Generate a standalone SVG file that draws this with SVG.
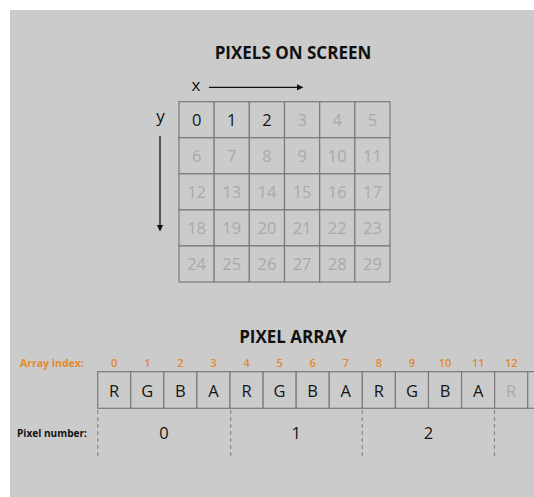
<svg xmlns="http://www.w3.org/2000/svg" width="534" height="497" viewBox="0 0 534 497">
<style>
.title{font-family:"Open Sans","Liberation Sans",sans-serif;font-weight:bold;font-size:17px;fill:#111;text-anchor:middle}
.cell rect{fill:#cbcbcb;stroke:#7a7a7a;stroke-width:1.2}
.num{font-family:"Open Sans","Liberation Sans",sans-serif;font-size:16.5px;text-anchor:middle}
.on{fill:#151515}
.off{fill:#a9a9a9}
.idx{font-family:"Open Sans","Liberation Sans",sans-serif;font-size:11px;font-weight:600;fill:#e08a2c;text-anchor:middle}
.lbl{font-family:"Open Sans","Liberation Sans",sans-serif;font-size:10.5px;font-weight:bold}
.axis{font-family:"Open Sans","Liberation Sans",sans-serif;font-size:17px;fill:#111;text-anchor:middle}
.dash{stroke:#8a8a8a;stroke-width:1.2;stroke-dasharray:4 3}
</style>
<rect x="10" y="10" width="524" height="487" fill="#cbcbcb"/>
<text class="title" x="293" y="59.3">PIXELS ON SCREEN</text>
<text class="axis" x="196" y="91">x</text>
<text class="axis" x="160.5" y="121.5">y</text>
<g id="connectors">
<line x1="209" y1="87.3" x2="297" y2="87.3" stroke="#111" stroke-width="1.3"/>
<polygon points="297,84.2 303.5,87.3 297,90.4" fill="#111"/>
<line x1="160" y1="136" x2="160" y2="225" stroke="#111" stroke-width="1.3"/>
<polygon points="156.9,225 163.1,225 160,231.5" fill="#111"/>
</g>
<g id="grid">
<g id="px-0" class="cell"><rect x="179" y="101.7" width="35.17" height="36.06"/><text class="num on" x="196.6" y="125.7">0</text></g>
<g id="px-1" class="cell"><rect x="214.17" y="101.7" width="35.17" height="36.06"/><text class="num on" x="231.8" y="125.7">1</text></g>
<g id="px-2" class="cell"><rect x="249.34" y="101.7" width="35.17" height="36.06"/><text class="num on" x="266.9" y="125.7">2</text></g>
<g id="px-3" class="cell"><rect x="284.51" y="101.7" width="35.17" height="36.06"/><text class="num off" x="302.1" y="125.7">3</text></g>
<g id="px-4" class="cell"><rect x="319.68" y="101.7" width="35.17" height="36.06"/><text class="num off" x="337.2" y="125.7">4</text></g>
<g id="px-5" class="cell"><rect x="354.85" y="101.7" width="35.17" height="36.06"/><text class="num off" x="372.4" y="125.7">5</text></g>
<g id="px-6" class="cell"><rect x="179" y="137.76" width="35.17" height="36.06"/><text class="num off" x="196.6" y="161.8">6</text></g>
<g id="px-7" class="cell"><rect x="214.17" y="137.76" width="35.17" height="36.06"/><text class="num off" x="231.8" y="161.8">7</text></g>
<g id="px-8" class="cell"><rect x="249.34" y="137.76" width="35.17" height="36.06"/><text class="num off" x="266.9" y="161.8">8</text></g>
<g id="px-9" class="cell"><rect x="284.51" y="137.76" width="35.17" height="36.06"/><text class="num off" x="302.1" y="161.8">9</text></g>
<g id="px-10" class="cell"><rect x="319.68" y="137.76" width="35.17" height="36.06"/><text class="num off" x="337.2" y="161.8">10</text></g>
<g id="px-11" class="cell"><rect x="354.85" y="137.76" width="35.17" height="36.06"/><text class="num off" x="372.4" y="161.8">11</text></g>
<g id="px-12" class="cell"><rect x="179" y="173.82" width="35.17" height="36.06"/><text class="num off" x="196.6" y="197.8">12</text></g>
<g id="px-13" class="cell"><rect x="214.17" y="173.82" width="35.17" height="36.06"/><text class="num off" x="231.8" y="197.8">13</text></g>
<g id="px-14" class="cell"><rect x="249.34" y="173.82" width="35.17" height="36.06"/><text class="num off" x="266.9" y="197.8">14</text></g>
<g id="px-15" class="cell"><rect x="284.51" y="173.82" width="35.17" height="36.06"/><text class="num off" x="302.1" y="197.8">15</text></g>
<g id="px-16" class="cell"><rect x="319.68" y="173.82" width="35.17" height="36.06"/><text class="num off" x="337.2" y="197.8">16</text></g>
<g id="px-17" class="cell"><rect x="354.85" y="173.82" width="35.17" height="36.06"/><text class="num off" x="372.4" y="197.8">17</text></g>
<g id="px-18" class="cell"><rect x="179" y="209.88" width="35.17" height="36.06"/><text class="num off" x="196.6" y="233.9">18</text></g>
<g id="px-19" class="cell"><rect x="214.17" y="209.88" width="35.17" height="36.06"/><text class="num off" x="231.8" y="233.9">19</text></g>
<g id="px-20" class="cell"><rect x="249.34" y="209.88" width="35.17" height="36.06"/><text class="num off" x="266.9" y="233.9">20</text></g>
<g id="px-21" class="cell"><rect x="284.51" y="209.88" width="35.17" height="36.06"/><text class="num off" x="302.1" y="233.9">21</text></g>
<g id="px-22" class="cell"><rect x="319.68" y="209.88" width="35.17" height="36.06"/><text class="num off" x="337.2" y="233.9">22</text></g>
<g id="px-23" class="cell"><rect x="354.85" y="209.88" width="35.17" height="36.06"/><text class="num off" x="372.4" y="233.9">23</text></g>
<g id="px-24" class="cell"><rect x="179" y="245.94" width="35.17" height="36.06"/><text class="num off" x="196.6" y="269.9">24</text></g>
<g id="px-25" class="cell"><rect x="214.17" y="245.94" width="35.17" height="36.06"/><text class="num off" x="231.8" y="269.9">25</text></g>
<g id="px-26" class="cell"><rect x="249.34" y="245.94" width="35.17" height="36.06"/><text class="num off" x="266.9" y="269.9">26</text></g>
<g id="px-27" class="cell"><rect x="284.51" y="245.94" width="35.17" height="36.06"/><text class="num off" x="302.1" y="269.9">27</text></g>
<g id="px-28" class="cell"><rect x="319.68" y="245.94" width="35.17" height="36.06"/><text class="num off" x="337.2" y="269.9">28</text></g>
<g id="px-29" class="cell"><rect x="354.85" y="245.94" width="35.17" height="36.06"/><text class="num off" x="372.4" y="269.9">29</text></g>
</g>
<text class="title" x="293" y="343.3">PIXEL ARRAY</text>
<text class="lbl" x="20" y="367.3" fill="#e08a2c">Array index:</text>
<g id="indices">
<text class="idx" x="114.2" y="367.3">0</text>
<text class="idx" x="147.3" y="367.3">1</text>
<text class="idx" x="180.4" y="367.3">2</text>
<text class="idx" x="213.5" y="367.3">3</text>
<text class="idx" x="246.6" y="367.3">4</text>
<text class="idx" x="279.6" y="367.3">5</text>
<text class="idx" x="312.7" y="367.3">6</text>
<text class="idx" x="345.8" y="367.3">7</text>
<text class="idx" x="378.9" y="367.3">8</text>
<text class="idx" x="412.0" y="367.3">9</text>
<text class="idx" x="445.1" y="367.3">10</text>
<text class="idx" x="478.2" y="367.3">11</text>
<text class="idx" x="511.2" y="367.3" fill="#e69c45">12</text>
</g>
<g id="array">
<g id="a-0" class="cell"><rect x="97.7" y="371.7" width="33.08" height="36.6"/><text class="num on" x="114.2" y="397.3">R</text></g>
<g id="a-1" class="cell"><rect x="130.78" y="371.7" width="33.08" height="36.6"/><text class="num on" x="147.3" y="397.3">G</text></g>
<g id="a-2" class="cell"><rect x="163.86" y="371.7" width="33.08" height="36.6"/><text class="num on" x="180.4" y="397.3">B</text></g>
<g id="a-3" class="cell"><rect x="196.94" y="371.7" width="33.08" height="36.6"/><text class="num on" x="213.5" y="397.3">A</text></g>
<g id="a-4" class="cell"><rect x="230.02" y="371.7" width="33.08" height="36.6"/><text class="num on" x="246.6" y="397.3">R</text></g>
<g id="a-5" class="cell"><rect x="263.1" y="371.7" width="33.08" height="36.6"/><text class="num on" x="279.6" y="397.3">G</text></g>
<g id="a-6" class="cell"><rect x="296.18" y="371.7" width="33.08" height="36.6"/><text class="num on" x="312.7" y="397.3">B</text></g>
<g id="a-7" class="cell"><rect x="329.26" y="371.7" width="33.08" height="36.6"/><text class="num on" x="345.8" y="397.3">A</text></g>
<g id="a-8" class="cell"><rect x="362.34" y="371.7" width="33.08" height="36.6"/><text class="num on" x="378.9" y="397.3">R</text></g>
<g id="a-9" class="cell"><rect x="395.42" y="371.7" width="33.08" height="36.6"/><text class="num on" x="412.0" y="397.3">G</text></g>
<g id="a-10" class="cell"><rect x="428.5" y="371.7" width="33.08" height="36.6"/><text class="num on" x="445.1" y="397.3">B</text></g>
<g id="a-11" class="cell"><rect x="461.58" y="371.7" width="33.08" height="36.6"/><text class="num on" x="478.2" y="397.3">A</text></g>
<g id="a-12" class="cell"><rect x="494.66" y="371.7" width="33.08" height="36.6"/><text class="num off" x="511.2" y="397.3">R</text></g>
<g id="a-13" class="cell"><rect x="527.74" y="371.7" width="33.08" height="36.6"/></g>
</g>
<text class="lbl" x="17" y="436.7" fill="#111" textLength="70" lengthAdjust="spacingAndGlyphs">Pixel number:</text>
<g id="pixel-groups">
<line class="dash" x1="97.7" y1="410" x2="97.7" y2="459"/>
<line class="dash" x1="230.7" y1="410" x2="230.7" y2="459"/>
<line class="dash" x1="362.3" y1="410" x2="362.3" y2="459"/>
<line class="dash" x1="494.5" y1="410" x2="494.5" y2="459"/>
<text class="num on" x="164" y="439.3">0</text>
<text class="num on" x="296.2" y="439.3">1</text>
<text class="num on" x="428.5" y="439.3">2</text>
</g>
</svg>
